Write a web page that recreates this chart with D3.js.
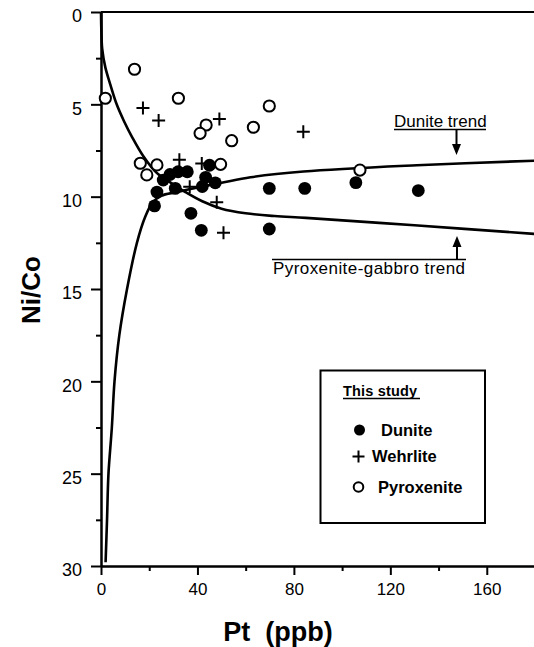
<!DOCTYPE html>
<html>
<head>
<meta charset="utf-8">
<script src="https://cdn.jsdelivr.net/npm/d3@7"></script>
<style>
  body { margin: 0; background: #fff; }
  svg { display: block; font-family: "Liberation Sans", Arial, Helvetica, sans-serif; }
</style>
</head>
<body>
<script>
// data: Pt (ppb) vs Ni/Co
var dunitePt   = [69.8, 84.5, 131.6, 105.7, 37.3, 41.6, 69.8, 22.2, 23.2, 25.8, 28.6, 32.0, 35.8, 30.8, 45.0, 43.4, 47.4, 42.0];
var duniteNiCo = [9.55, 9.55, 9.67, 9.24, 10.9, 11.82, 11.75, 10.5, 9.75, 9.1, 8.8, 8.65, 8.65, 9.55, 8.3, 8.95, 9.25, 9.45];

var wehrlitePt   = [17.4, 23.9, 49.1, 83.9, 32.5, 41.8, 36.8, 48.0, 50.8];
var wehrliteNiCo = [5.2, 5.88, 5.79, 6.48, 8.0, 8.2, 9.46, 10.3, 11.95];

var pyroxenitePt   = [1.8, 13.9, 32.1, 69.8, 43.6, 41.1, 63.2, 54.2, 16.3, 23.2, 19.0, 49.6, 107.4];
var pyroxeniteNiCo = [4.67, 3.1, 4.67, 5.09, 6.12, 6.57, 6.24, 6.97, 8.19, 8.28, 8.82, 8.25, 8.56];

// trend curves
var pyroxTrendPt   = [0, 0.15, 0.5, 1.8, 3.8, 6.5, 9.5, 13, 17.5, 23, 29, 35, 42, 50, 60, 72, 85, 130, 180];
var pyroxTrendNiCo = [0, 1.0, 2.0, 3.0, 3.9, 5.0, 5.9, 6.8, 7.8, 8.7, 9.25, 9.75, 10.25, 10.65, 10.9, 11.05, 11.15, 11.55, 12.02];
var duniteTrendPt   = [1.9, 2.5, 3.1, 4.5, 5.6, 7.6, 10.8, 14.9, 18.3, 21.5, 25, 31.5, 40, 50, 62, 84, 131, 180];
var duniteTrendNiCo = [29.8, 27.5, 25, 22.5, 20, 17.5, 15, 12.5, 11.1, 10.3, 9.95, 9.75, 9.5, 9.25, 8.95, 8.64, 8.3, 8.05];

var xTicks = [0, 40, 80, 120, 160];
var yTicks = [0, 5, 10, 15, 20, 25, 30];

//svg size and plot area
var margin = {top: 12, left: 101},
    width = 434, height = 554;

var svg = d3.select("body").append("svg")
    .attr("width", 534)
    .attr("height", 647);

var g = svg.append("g")
    .attr("transform", "translate(" + margin.left + "," + margin.top + ")");

var x = d3.scaleLinear().domain([0, 180]).range([0, width]);
var y = d3.scaleLinear().domain([0, 30]).range([0, height]);

//minor ticks
g.append("g")
    .attr("transform", "translate(0," + height + ")")
    .call(d3.axisBottom(x).tickValues(d3.range(20, 180, 40)).tickSize(5).tickSizeOuter(0).tickFormat(""));
g.append("g")
    .call(d3.axisLeft(y).tickValues(d3.range(2.5, 30, 5)).tickSize(5).tickSizeOuter(0).tickFormat(""));

//major ticks with labels
var xAxis = g.append("g")
    .attr("transform", "translate(0," + height + ")")
    .call(d3.axisBottom(x).tickValues(xTicks).tickSize(9).tickSizeOuter(0).tickPadding(8));
xAxis.selectAll("text").attr("font-size", 17).attr("fill", "#000");

var yAxis = g.append("g")
    .call(d3.axisLeft(y).tickValues(yTicks).tickSize(10).tickSizeOuter(0).tickPadding(9));
yAxis.selectAll("text").attr("font-size", 18).attr("fill", "#000").attr("dy", "0.55em");

g.selectAll(".domain, .tick line").attr("stroke", "#000").attr("stroke-width", 2);

//top frame line
g.append("line")
    .attr("x1", 0).attr("x2", width)
    .attr("y1", y(0)).attr("y2", y(0))
    .attr("stroke", "#000").attr("stroke-width", 2);

//trend curves
var line = d3.line()
    .x(function(d) { return x(d[0]); })
    .y(function(d) { return y(d[1]); })
    .curve(d3.curveCatmullRom.alpha(0.5));

g.append("path")
    .attr("d", line(d3.zip(pyroxTrendPt, pyroxTrendNiCo)))
    .attr("fill", "none").attr("stroke", "#000").attr("stroke-width", 2.6);
g.append("path")
    .attr("d", line(d3.zip(duniteTrendPt, duniteTrendNiCo)))
    .attr("fill", "none").attr("stroke", "#000").attr("stroke-width", 2.6);

//points
g.selectAll(".pyx")
    .data(d3.zip(pyroxenitePt, pyroxeniteNiCo))
    .enter().append("circle")
    .attr("cx", function(d) { return x(d[0]); })
    .attr("cy", function(d) { return y(d[1]); })
    .attr("r", 5.6)
    .attr("fill", "#fff").attr("stroke", "#000").attr("stroke-width", 2);

g.selectAll(".weh")
    .data(d3.zip(wehrlitePt, wehrliteNiCo))
    .enter().append("path")
    .attr("transform", function(d) { return "translate(" + x(d[0]) + "," + y(d[1]) + ")"; })
    .attr("d", "M-6.5,0H6.5M0,-6.5V6.5")
    .attr("stroke", "#000").attr("stroke-width", 2);

g.selectAll(".dun")
    .data(d3.zip(dunitePt, duniteNiCo))
    .enter().append("circle")
    .attr("cx", function(d) { return x(d[0]); })
    .attr("cy", function(d) { return y(d[1]); })
    .attr("r", 6.4)
    .attr("fill", "#000");

//trend labels and arrows
function arrow(x0, y0, y1) {
    var dir = y1 > y0 ? 1 : -1;
    svg.append("line")
        .attr("x1", x0).attr("x2", x0).attr("y1", y0).attr("y2", y1 - dir * 10)
        .attr("stroke", "#000").attr("stroke-width", 2);
    svg.append("path")
        .attr("d", "M" + (x0 - 4.5) + "," + (y1 - dir * 11) + "L" + (x0 + 4.5) + "," + (y1 - dir * 11) + "L" + x0 + "," + y1 + "Z")
        .attr("fill", "#000");
}

svg.append("text").attr("x", 394).attr("y", 127).attr("font-size", 17).text("Dunite trend");
svg.append("line").attr("x1", 394).attr("x2", 486).attr("y1", 129.5).attr("y2", 129.5)
    .attr("stroke", "#000").attr("stroke-width", 1.5);
arrow(456.5, 129.5, 155);

svg.append("text").attr("x", 273).attr("y", 274).attr("font-size", 17).attr("textLength", 192)
    .text("Pyroxenite-gabbro trend");
svg.append("line").attr("x1", 272).attr("x2", 466).attr("y1", 259.5).attr("y2", 259.5)
    .attr("stroke", "#000").attr("stroke-width", 1.5);
arrow(457, 259.5, 236);

//legend
svg.append("rect")
    .attr("x", 320.5).attr("y", 370.5).attr("width", 164.5).attr("height", 152.5)
    .attr("fill", "#fff").attr("stroke", "#000").attr("stroke-width", 2);
svg.append("text").attr("x", 343).attr("y", 396).attr("font-size", 14.5).attr("font-weight", "bold")
    .attr("textLength", 74).text("This study");
svg.append("line").attr("x1", 343).attr("x2", 420).attr("y1", 398.5).attr("y2", 398.5)
    .attr("stroke", "#000").attr("stroke-width", 1.5);

svg.append("circle").attr("cx", 359.5).attr("cy", 430).attr("r", 5.5).attr("fill", "#000");
svg.append("text").attr("x", 381).attr("y", 436).attr("font-size", 16.5).attr("font-weight", "bold").text("Dunite");
svg.append("path").attr("d", "M352.5,456.5H364.5M358.5,450.5V462.5").attr("stroke", "#000").attr("stroke-width", 2);
svg.append("text").attr("x", 372).attr("y", 462).attr("font-size", 16.5).attr("font-weight", "bold").text("Wehrlite");
svg.append("circle").attr("cx", 358.5).attr("cy", 487).attr("r", 4.8)
    .attr("fill", "#fff").attr("stroke", "#000").attr("stroke-width", 2);
svg.append("text").attr("x", 378).attr("y", 493).attr("font-size", 16.5).attr("font-weight", "bold").text("Pyroxenite");

//axis titles
svg.append("text")
    .attr("transform", "translate(40,290) rotate(-90)")
    .attr("text-anchor", "middle")
    .attr("font-size", 26).attr("font-weight", "bold")
    .text("Ni/Co");
svg.append("text")
    .attr("x", 278).attr("y", 641)
    .attr("text-anchor", "middle")
    .attr("font-size", 27).attr("font-weight", "bold")
    .attr("xml:space", "preserve")
    .text("Pt  (ppb)");
</script>
</body>
</html>
